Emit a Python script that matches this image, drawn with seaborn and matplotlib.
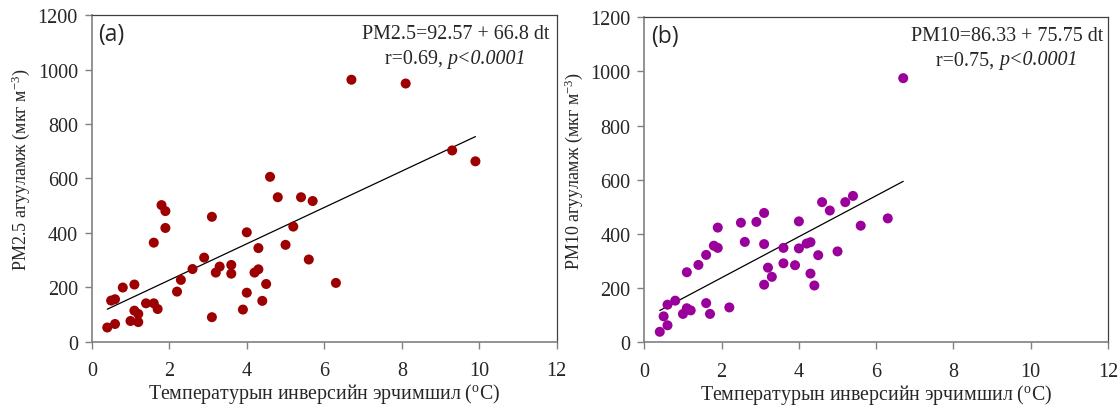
import matplotlib
matplotlib.use("Agg")
import matplotlib.pyplot as plt
import numpy as np
import pandas as pd
import seaborn as sns

# ── data ───────────────────────────────────────────────────────────────────────
pm25_dt = [0.4, 0.5, 0.6, 0.6, 0.8, 1.1, 1.0, 1.1, 1.2, 1.2, 1.4, 1.6, 1.7, 1.6,
           1.8, 1.9, 1.9, 2.2, 2.3, 2.6, 2.9, 3.1, 3.1, 3.2, 3.3, 3.6, 3.6, 3.9,
           4.0, 4.0, 4.2, 4.3, 4.3, 4.4, 4.5, 4.6, 4.8, 5.0, 5.2, 5.4, 5.6, 5.7,
           6.3, 6.7, 8.1, 9.3, 9.9]
pm25_val = [52, 151, 156, 65, 199, 210, 76, 114, 102, 72, 141, 141, 120, 364,
            502, 480, 418, 184, 227, 267, 309, 459, 90, 254, 276, 282, 250, 118,
            402, 180, 254, 266, 344, 150, 212, 606, 531, 356, 423, 531, 302, 517,
            216, 963, 949, 703, 663]

pm10_dt = [0.4, 0.5, 0.6, 0.6, 0.8, 1.0, 1.1, 1.1, 1.2, 1.4, 1.6, 1.7, 1.6, 1.8,
           1.9, 1.9, 2.2, 2.5, 2.6, 2.9, 3.1, 3.1, 3.1, 3.2, 3.3, 3.6, 3.6, 3.9,
           4.0, 4.0, 4.2, 4.3, 4.3, 4.4, 4.5, 4.6, 4.8, 5.0, 5.2, 5.4, 5.6, 6.3,
           6.7]
pm10_val = [38, 95, 138, 62, 153, 104, 125, 258, 117, 285, 144, 104, 322, 356,
            348, 423, 128, 441, 370, 444, 477, 362, 212, 275, 241, 348, 291, 284,
            446, 346, 364, 369, 253, 209, 321, 517, 486, 335, 517, 540, 430, 457,
            975]

# regression coefficients printed on the chart
fit_a = (92.57, 66.8)
fit_b = (86.33, 75.75)

x_ticks = [0, 2, 4, 6, 8, 10, 12]
y_ticks = [0, 200, 400, 600, 800, 1000, 1200]

xlabel = "Температурын инверсийн эрчимшил ($^{\\mathrm{o}}$C)"

panels = [
    dict(dt=pm25_dt, val=pm25_val, fit=fit_a, color="#9c0000", tag="(a)",
         ylabel="PM2.5 агууламж (мкг м$^{\\mathrm{-3}}$)",
         eq="PM2.5=92.57 + 66.8 dt", r="r=0.69, "),
    dict(dt=pm10_dt, val=pm10_val, fit=fit_b, color="#9a009a", tag="(b)",
         ylabel="PM10 агууламж (мкг м$^{\\mathrm{-3}}$)",
         eq="PM10=86.33 + 75.75 dt", r="r=0.75, "),
]

SERIF = ["Liberation Serif", "DejaVu Serif"]

sns.set_theme(style="white")
plt.rcParams["font.family"] = SERIF
plt.rcParams["mathtext.fontset"] = "custom"
plt.rcParams["mathtext.rm"] = "Liberation Serif"
plt.rcParams["mathtext.it"] = "Liberation Serif:italic"

fig = plt.figure(figsize=(11.19, 4.06), dpi=100)
boxes = [[0.082, 0.156, 0.4156, 0.804], [0.5758, 0.155, 0.4144, 0.800]]

for box, p in zip(boxes, panels):
    ax = fig.add_axes(box)
    df = pd.DataFrame({"dt": p["dt"], "val": p["val"]})
    sns.scatterplot(data=df, x="dt", y="val", ax=ax, color=p["color"],
                    s=52, edgecolor="none", zorder=3)

    # fitted line over the observed range
    xs = np.array([df["dt"].min(), df["dt"].max()])
    ax.plot(xs, p["fit"][0] + p["fit"][1] * xs, color="black", lw=0.9, zorder=2)

    ax.set_xlim(0, 12)
    ax.set_ylim(0, 1200)
    ax.set_xticks(x_ticks)
    ax.set_yticks(y_ticks)
    ax.tick_params(axis="both", direction="out", length=5, width=1,
                   color="#808080", labelsize=14.5, left=True, bottom=True,
                   labelfontfamily="Liberation Serif")
    ax.tick_params(axis="x", pad=9)
    ax.tick_params(axis="y", pad=5)
    for side in ("left", "bottom"):
        ax.spines[side].set_color("#808080")
        ax.spines[side].set_linewidth(1.2)
    for side in ("top", "right"):
        ax.spines[side].set_color("#404040")
        ax.spines[side].set_linewidth(0.9)

    ax.set_xlabel(xlabel, fontsize=14.3, labelpad=1)
    ax.set_ylabel(p["ylabel"], fontsize=13, labelpad=6)
    ax.yaxis.set_label_coords(-0.128, 0.529)

    ax.text(0.014, 0.943, p["tag"], transform=ax.transAxes, fontsize=16.5,
            family=["Open Sans", "DejaVu Sans"], ha="left", va="center")
    ax.text(0.783, 0.943, p["eq"], transform=ax.transAxes, fontsize=14.4,
            ha="center", va="center")
    ax.text(0.765, 0.869, p["r"], transform=ax.transAxes, fontsize=14.4,
            ha="right", va="center")
    ax.text(0.765, 0.869, "p<0.0001", transform=ax.transAxes, fontsize=14.4,
            style="italic", ha="left", va="center")

fig.savefig("out.png", dpi=100)
